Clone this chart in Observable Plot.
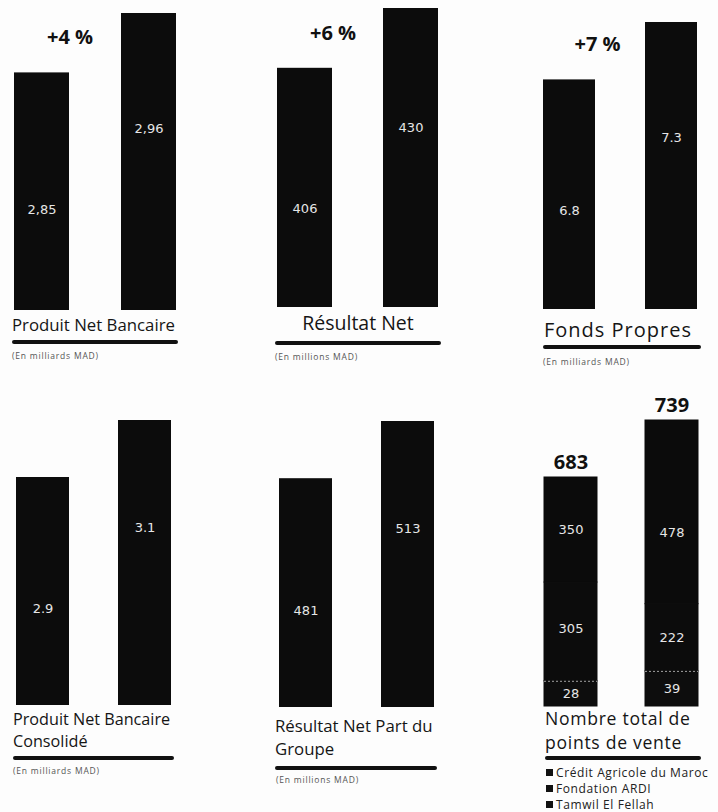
<!DOCTYPE html>
<html><head><meta charset="utf-8">
<script src="https://cdn.jsdelivr.net/npm/d3@7"></script>
<script src="https://cdn.jsdelivr.net/npm/@observablehq/plot@0.6"></script>
<style>
body{margin:0;background:#fff;}
#root{position:relative;width:718px;height:812px;overflow:hidden;font-family:"Open Sans",sans-serif;color:#111;background:#fdfdfd;}
.panel{position:absolute;}
.panel svg{overflow:visible;}
.title{position:absolute;font-size:15px;line-height:20px;white-space:nowrap;color:#151515;}
.rule{position:absolute;height:4px;background:#111;border-radius:2px;}
.unit{position:absolute;font-size:8.5px;letter-spacing:0.8px;line-height:10px;color:#555;white-space:nowrap;}
.legend{position:absolute;font-size:12px;letter-spacing:0.6px;line-height:16px;white-space:nowrap;color:#222;}
.legend span.sw{display:inline-block;width:7px;height:7px;background:#111;margin-right:3px;vertical-align:1px;}
</style>
</head><body><div id="root"></div>
<script>
// ---- data ----
const periods = ["N-1", "N"];
const pnb = [2.85, 2.96];
const pnbLabels = ["2,85", "2,96"];
const resultatNet = [406, 430];
const resultatNetLabels = ["406", "430"];
const fondsPropres = [6.8, 7.3];
const fondsPropresLabels = ["6.8", "7.3"];
const pnbConsolide = [2.9, 3.1];
const pnbConsolideLabels = ["2.9", "3.1"];
const rnpg = [481, 513];
const rnpgLabels = ["481", "513"];
const growthLabels = ["+4 %", "+6 %", "+7 %"];
const networkGroups = ["Crédit Agricole du Maroc", "Fondation ARDI", "Tamwil El Fellah"];
const pdvCAM = [350, 478];
const pdvArdi = [305, 222];
const pdvTamwil = [28, 39];
const pdvTotal = [683, 739];

const root = document.getElementById("root");
function el(cls, style, html) {
  const d = document.createElement("div");
  d.className = cls;
  Object.assign(d.style, style);
  if (html != null) d.innerHTML = html;
  root.appendChild(d);
  return d;
}

const RATIO = 0.8; // visual ratio of the left bar to the right bar in the infographic

function xScale(bw, w) {
  const k = bw / w;
  return {type: "band", domain: periods, paddingInner: (1 - 2 * k) / (1 - k), paddingOuter: 0, round: false, axis: null};
}

const valueFont = {fill: "#e6e6e6", fontSize: 13, fontFamily: "DejaVu Sans", letterSpacing: 1};
const bigFont = {fontSize: 20, fontWeight: "bold", fill: "#111", fontFamily: "Open Sans"};

function barPanel({top, x1, x2, bw, baseline, rightTop, values, labels, growth, dyL, dyR}) {
  const w = x2 - x1;
  const width = w + 20;
  const height = baseline - top;
  const lo = (values[0] - RATIO * values[1]) / (1 - RATIO);
  const data = periods.map((p, i) => ({period: p, value: values[i], label: labels[i]}));
  const marks = [
    Plot.barY(data, {x: "period", y: "value", fill: "#0c0c0c"}),
    Plot.text(data.slice(0, 1), {x: "period", y: "value", text: "label", dy: dyL, ...valueFont}),
    Plot.text(data.slice(1), {x: "period", y: "value", text: "label", dy: dyR, ...valueFont})
  ];
  if (growth) {
    marks.push(Plot.text([{period: periods[0], value: values[0], label: growth}], {x: "period", y: "value", text: "label", dx: 28, dy: -35, letterSpacing: 1.5, ...bigFont}));
  }
  const chart = Plot.plot({
    width, height,
    marginLeft: 10, marginRight: 10, marginTop: rightTop - top, marginBottom: 0,
    x: xScale(bw, w),
    y: {domain: [lo, values[1]], clamp: true, axis: null},
    style: {background: "transparent", overflow: "visible"},
    marks
  });
  const p = el("panel", {left: (x1 - 10) + "px", top: top + "px"});
  p.appendChild(chart);
}

barPanel({top: 0, x1: 14, x2: 176, bw: 55, baseline: 310, rightTop: 13, values: pnb, labels: pnbLabels, growth: growthLabels[0], dyL: 137, dyR: 115});
barPanel({top: 0, x1: 277, x2: 438, bw: 55, baseline: 307, rightTop: 8, values: resultatNet, labels: resultatNetLabels, growth: growthLabels[1], dyL: 141, dyR: 119});
barPanel({top: 0, x1: 543, x2: 697, bw: 52, baseline: 309, rightTop: 22, values: fondsPropres, labels: fondsPropresLabels, growth: growthLabels[2], dyL: 131, dyR: 115});
barPanel({top: 380, x1: 16, x2: 171, bw: 53, baseline: 705, rightTop: 420, values: pnbConsolide, labels: pnbConsolideLabels, growth: null, dyL: 131, dyR: 107});
barPanel({top: 380, x1: 279, x2: 434, bw: 53, baseline: 707, rightTop: 421, values: rnpg, labels: rnpgLabels, growth: null, dyL: 132, dyR: 107});

// stacked panel: points de vente
(function () {
  const x1 = 544, x2 = 698, bw = 53, top = 380, baseline = 706;
  const w = x2 - x1, width = w + 20, height = baseline - top;
  const rows = [];
  periods.forEach((p, i) => {
    rows.push({period: p, group: networkGroups[0], value: pdvCAM[i]});
    rows.push({period: p, group: networkGroups[1], value: pdvArdi[i]});
    rows.push({period: p, group: networkGroups[2], value: pdvTamwil[i]});
  });
  const totals = periods.map((p, i) => ({period: p, value: pdvTotal[i]}));
  const bottomTops = periods.map((p, i) => ({period: p, value: pdvTamwil[i]}));
  const order = [networkGroups[2], networkGroups[1], networkGroups[0]];
  // piecewise transform reproducing the stylised (non-proportional) bar heights of the original
  const stylise = d3.scaleLinear().domain([0, 40, pdvTotal[0], pdvTotal[1]]).range([0, 36, 229, 286]);
  const chart = Plot.plot({
    width, height,
    marginLeft: 10, marginRight: 10, marginTop: 40, marginBottom: 0,
    x: xScale(bw, w),
    y: {transform: stylise, nice: false, zero: true, axis: null},
    color: {domain: networkGroups, range: ["#0b0b0b", "#0c0c0c", "#0d0d0d"]},
    style: {background: "transparent", overflow: "visible"},
    marks: [
      Plot.barY(rows, Plot.stackY({x: "period", y: "value", fill: "group", stroke: "group", strokeWidth: 1, order})),
      Plot.tickY(bottomTops, {x: "period", y: "value", stroke: "#a0a0a0", strokeDasharray: "2,2", strokeWidth: 1}),
      Plot.text(rows, Plot.stackY({x: "period", y: "value", z: "group", order, text: d => String(d.value), ...valueFont})),
      Plot.text(totals, {x: "period", y: "value", text: d => String(d.value), dy: -15, ...bigFont})
    ]
  });
  const p = el("panel", {left: (x1 - 10) + "px", top: top + "px"});
  p.appendChild(chart);
})();

// ---- titles, rules, units ----
el("title", {left: "12px", top: "315px", fontSize: "16.8px"}, "Produit Net Bancaire");
el("rule", {left: "12px", top: "340px", width: "166px"});
el("unit", {left: "12px", top: "351px"}, "(En milliards MAD)");

el("title", {left: "275px", top: "312px", width: "166px", textAlign: "center", fontSize: "19.5px", lineHeight: "22px"}, "Résultat Net");
el("rule", {left: "275px", top: "341px", width: "166px"});
el("unit", {left: "275px", top: "352px"}, "(En millions MAD)");

el("title", {left: "544px", top: "317px", fontSize: "20px", letterSpacing: "1px", lineHeight: "26px"}, "Fonds Propres");
el("rule", {left: "543px", top: "345px", width: "158px"});
el("unit", {left: "543px", top: "357px"}, "(En milliards MAD)");

el("title", {left: "13px", top: "708px", fontSize: "16.2px", lineHeight: "22px"}, "Produit Net Bancaire<br>Consolidé");
el("rule", {left: "13px", top: "756px", width: "161px"});
el("unit", {left: "13px", top: "766px"}, "(En milliards MAD)");

el("title", {left: "275px", top: "714px", fontSize: "16.8px", lineHeight: "23px"}, "Résultat Net Part du<br>Groupe");
el("rule", {left: "275px", top: "766px", width: "162px"});
el("unit", {left: "276px", top: "775px"}, "(En millions MAD)");

el("title", {left: "545px", top: "706px", fontSize: "17.6px", letterSpacing: "0.7px", lineHeight: "24px"}, "Nombre total de<br>points de vente");
el("rule", {left: "545px", top: "756px", width: "156px"});
el("legend", {left: "546px", top: "765px"}, networkGroups.map(g => `<div><span class="sw"></span>${g}</div>`).join(""));
</script>
</body></html>
